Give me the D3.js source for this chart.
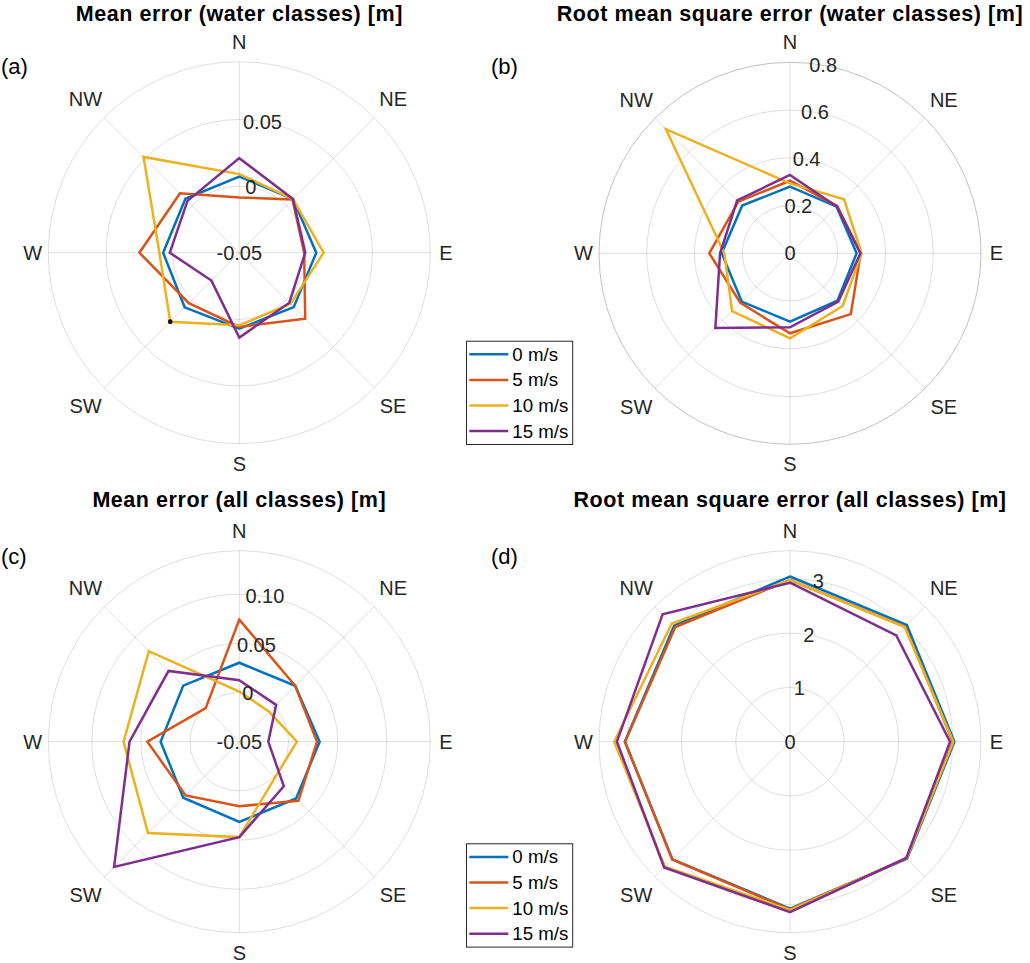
<!DOCTYPE html>
<html><head><meta charset="utf-8">
<script src="https://cdn.jsdelivr.net/npm/d3@7"></script>
<style>
body{margin:0;background:#fff}
svg text{font-family:"Liberation Sans",Arial,Helvetica,sans-serif}
</style>
</head><body>
<svg id="chart" width="1030" height="963"></svg>
<script>
// ---------- DATA ----------
const directions = ["N","NE","E","SE","S","SW","W","NW"];
const seriesNames = ["0 m/s","5 m/s","10 m/s","15 m/s"];

// (a) Mean error (water classes) [m]
const meWater0  = [0.0072, 0.0070, 0.0078, 0.0078, 0.0070, 0.0080, 0.0072, 0.0072];
const meWater5  = [-0.0085, 0.0065, -0.0013, 0.0200, 0.0057, 0.0036, 0.0250, 0.0130];
const meWater10 = [0.0090, 0.0070, 0.0133, 0.0043, 0.0045, 0.0233, 0.0100, 0.0517];
const meWater15 = [0.0210, 0.0070, -0.0005, 0.0031, 0.0137, -0.0204, 0.0022, 0.0050];
const meWaterRange = [-0.05, 0.0934];
const meWaterTicks = [-0.05, 0, 0.05];
const meWaterTickLabels = ["-0.05", "0", "0.05"];

// (b) Root mean square error (water classes) [m]
const rmseWater0  = [0.279, 0.276, 0.279, 0.281, 0.286, 0.286, 0.286, 0.283];
const rmseWater5  = [0.304, 0.280, 0.296, 0.360, 0.335, 0.294, 0.338, 0.306];
const rmseWater10 = [0.293, 0.320, 0.300, 0.312, 0.356, 0.343, 0.275, 0.735];
const rmseWater15 = [0.328, 0.277, 0.295, 0.286, 0.310, 0.442, 0.293, 0.313];
const rmseWaterRange = [0, 0.8];
const rmseWaterTicks = [0, 0.2, 0.4, 0.6, 0.8];
const rmseWaterTickLabels = ["0", "0.2", "0.4", "0.6", "0.8"];

// (c) Mean error (all classes) [m]
const meAll0  = [0.0303, 0.0304, 0.0317, 0.0317, 0.0316, 0.0306, 0.0300, 0.0306];
const meAll5  = [0.0741, 0.0304, 0.0290, 0.0350, 0.0155, 0.0272, 0.0435, -0.0017];
const meAll10 = [0.0010, -0.0070, 0.0086, 0.0014, 0.0470, 0.0813, 0.0677, 0.0801];
const meAll15 = [0.0125, 0.0030, -0.0205, 0.0140, 0.0470, 0.1300, 0.0616, 0.0517];
const meAllRange = [-0.05, 0.1442];
const meAllTicks = [-0.05, 0, 0.05, 0.10];
const meAllTickLabels = ["-0.05", "0", "0.05", "0.10"];

// (d) Root mean square error (all classes) [m]
const rmseAll0  = [3.044, 3.044, 3.030, 3.050, 3.075, 3.066, 3.044, 3.020];
const rmseAll5  = [2.980, 3.000, 3.000, 3.040, 3.090, 3.070, 3.040, 2.990];
const rmseAll10 = [2.980, 2.990, 3.010, 3.040, 3.100, 3.260, 3.240, 3.080];
const rmseAll15 = [2.930, 2.770, 2.950, 3.030, 3.140, 3.280, 3.190, 3.320];
const rmseAllRange = [0, 3.52];
const rmseAllTicks = [0, 1, 2, 3];
const rmseAllTickLabels = ["0", "1", "2", "3"];

// ---------- STYLE / LAYOUT ----------
const colors = ["#0072BD", "#D95319", "#EDB120", "#7E2F8E"];
const R = 191;
const textColor = "#262626";

const panels = [
  {title:"Mean error (water classes) [m]", tag:"(a)", cx:239.3, cy:252.7, titleY:20.5, tagX:1, tagY:66,
   range:meWaterRange, ticks:meWaterTicks, tickLabels:meWaterTickLabels,
   series:[meWater0, meWater5, meWater10, meWater15], marker:{s:2, d:5},
   legend:{x:466, y:340.7}},
  {title:"Root mean square error (water classes) [m]", tag:"(b)", cx:790, cy:253.3, titleY:20.5, tagX:491, tagY:66,
   range:rmseWaterRange, ticks:rmseWaterTicks, tickLabels:rmseWaterTickLabels,
   series:[rmseWater0, rmseWater5, rmseWater10, rmseWater15]},
  {title:"Mean error (all classes) [m]", tag:"(c)", cx:239.3, cy:741.7, titleY:507, tagX:1, tagY:556,
   range:meAllRange, ticks:meAllTicks, tickLabels:meAllTickLabels,
   series:[meAll0, meAll5, meAll10, meAll15],
   legend:{x:466, y:843.3}},
  {title:"Root mean square error (all classes) [m]", tag:"(d)", cx:790, cy:741.7, titleY:507, tagX:491, tagY:556,
   range:rmseAllRange, ticks:rmseAllTicks, tickLabels:rmseAllTickLabels,
   series:[rmseAll0, rmseAll5, rmseAll10, rmseAll15]}
];

const svg = d3.select("#chart");
const ang = i => i * Math.PI / 4;

panels.forEach(p => {
  const g = svg.append("g").attr("transform", `translate(${p.cx},${p.cy})`);
  const r = d3.scaleLinear().domain(p.range).range([0, R]);

  // grid rings
  const ringVals = p.ticks.filter(t => r(t) > 0.5);
  g.selectAll("circle.ring").data(ringVals).join("circle")
    .attr("class","ring").attr("r", d => r(d))
    .attr("fill","none").attr("stroke", textColor).attr("stroke-opacity", 0.15).attr("stroke-width", 1);
  // outer boundary
  g.append("circle").attr("r", r(p.range[1]))
    .attr("fill","none").attr("stroke", textColor).attr("stroke-opacity", 0.15).attr("stroke-width", 1);
  // spokes
  g.selectAll("line.spoke").data(directions).join("line")
    .attr("class","spoke")
    .attr("x1",0).attr("y1",0)
    .attr("x2",(d,i)=> R*Math.sin(ang(i)))
    .attr("y2",(d,i)=> -R*Math.cos(ang(i)))
    .attr("stroke", textColor).attr("stroke-opacity", 0.15).attr("stroke-width", 1);

  // direction labels
  g.selectAll("text.dir").data(directions).join("text")
    .attr("class","dir")
    .each(function(d,i){
      const lr = (i % 2 === 1) ? 217.5 : (i % 4 === 0 ? 211 : 206.5);
      d3.select(this)
        .attr("x", lr*Math.sin(ang(i)))
        .attr("y", -lr*Math.cos(ang(i)));
    })
    .attr("text-anchor","middle").attr("dominant-baseline","central")
    .attr("font-size", 20).attr("fill", textColor)
    .text(d => d);

  // data lines
  const line = d3.lineRadial()
    .angle((d,i) => ang(i))
    .radius(d => r(d))
    .curve(d3.curveLinearClosed);
  g.selectAll("path.series").data(p.series).join("path")
    .attr("class","series")
    .attr("d", d => line(d))
    .attr("fill","none")
    .attr("stroke", (d,i) => colors[i])
    .attr("stroke-width", 2.5)
    .attr("stroke-linejoin","miter");

  // marker (data tip dot)
  if (p.marker) {
    const v = p.series[p.marker.s][p.marker.d];
    g.append("circle")
      .attr("cx", r(v)*Math.sin(ang(p.marker.d)))
      .attr("cy", -r(v)*Math.cos(ang(p.marker.d)))
      .attr("r", 2.4).attr("fill", "#111");
  }

  // tick labels at 10 degrees clockwise from N
  const ta = 10 * Math.PI / 180;
  g.selectAll("text.tick").data(p.ticks).join("text")
    .attr("class","tick")
    .attr("x", d => r(d)*Math.sin(ta))
    .attr("y", d => -r(d)*Math.cos(ta))
    .attr("text-anchor","middle").attr("dominant-baseline","central")
    .attr("font-size", 20).attr("fill", textColor)
    .text((d,i) => p.tickLabels[i]);

  // title
  svg.append("text")
    .attr("x", p.cx).attr("y", p.titleY)
    .attr("text-anchor","middle")
    .attr("font-size", 21.5).attr("font-weight","bold").attr("fill","#000")
    .attr("letter-spacing", 0.55)
    .text(p.title);

  // panel tag
  svg.append("text")
    .attr("x", p.tagX).attr("y", p.tagY)
    .attr("dominant-baseline","central")
    .attr("font-size", 22).attr("fill","#000")
    .text(p.tag);

  // legend
  if (p.legend) {
    const lg = svg.append("g").attr("transform", `translate(${p.legend.x},${p.legend.y})`);
    lg.append("rect").attr("x",0.5).attr("y",0.5).attr("width",106.2).attr("height",103.3)
      .attr("fill","#fff").attr("stroke", textColor).attr("stroke-width",1);
    const rows = lg.selectAll("g.row").data(seriesNames).join("g")
      .attr("class","row")
      .attr("transform",(d,i)=>`translate(0,${13.6 + i*25.6})`);
    rows.append("line").attr("x1",3.3).attr("x2",42.3).attr("y1",0).attr("y2",0)
      .attr("stroke",(d,i)=>colors[i]).attr("stroke-width",2.5);
    rows.append("text").attr("x",46.3).attr("y",0)
      .attr("dominant-baseline","central")
      .attr("font-size",18.7).attr("fill","#000")
      .text(d=>d);
  }
});
</script>
</body></html>
